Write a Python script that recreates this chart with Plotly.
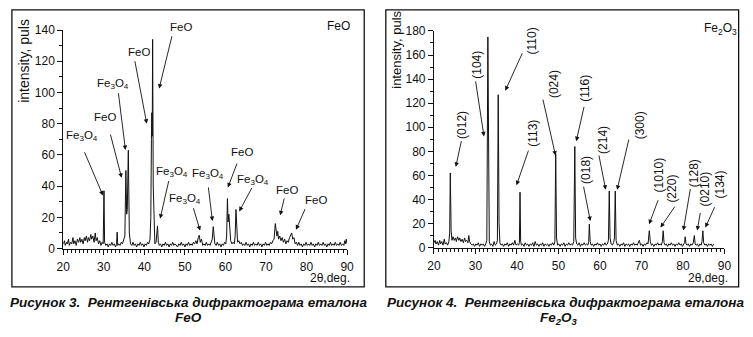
import plotly.graph_objects as go

# ---------------- data: FeO standard ----------------
feo_two_theta = [
    20.0, 20.3, 20.5, 20.8, 21.0, 21.3, 21.5, 21.8, 22.1, 22.4, 22.6, 22.9, 23.2, 23.5, 23.8,
    24.1, 24.3, 24.6, 24.9, 25.2, 25.4, 25.7, 26.0, 26.2, 26.5, 26.8, 27.0, 27.3, 27.6, 27.9,
    28.1, 28.4, 28.7, 29.0, 29.3, 29.6, 29.85, 30.05, 30.2, 30.5, 30.8, 31.1, 31.4, 31.7, 32.0,
    32.3, 32.6, 32.9, 33.15, 33.3, 33.45, 33.7, 34.0, 34.3, 34.6, 34.9, 35.2, 35.45, 35.65, 35.8,
    36.05, 36.3, 36.6, 36.9, 37.2, 37.5, 37.8, 38.1, 38.4, 38.7, 39.0, 39.3, 39.6, 39.9, 40.2,
    40.5, 40.8, 41.1, 41.4, 41.6, 41.75, 41.85, 41.95, 42.05, 42.2, 42.4, 42.6, 42.9, 43.1, 43.25,
    43.45, 43.7, 44.0, 44.3, 44.6, 44.9, 45.2, 45.5, 45.8, 46.1, 46.4, 46.7, 47.0, 47.3, 47.6,
    47.9, 48.2, 48.5, 48.8, 49.1, 49.4, 49.7, 50.0, 50.3, 50.6, 50.9, 51.2, 51.5, 51.8, 52.1,
    52.4, 52.7, 53.0, 53.3, 53.55, 53.8, 54.1, 54.4, 54.7, 55.0, 55.3, 55.6, 55.9, 56.2, 56.5,
    56.75, 57.0, 57.2, 57.4, 57.7, 58.0, 58.3, 58.6, 58.9, 59.2, 59.5, 59.8, 60.1, 60.3, 60.5,
    60.65, 60.85, 61.05, 61.3, 61.6, 61.9, 62.2, 62.4, 62.6, 62.8, 63.0, 63.3, 63.6, 63.9, 64.2,
    64.5, 64.8, 65.1, 65.4, 65.7, 66.0, 66.3, 66.6, 66.9, 67.2, 67.5, 67.8, 68.1, 68.4, 68.7,
    69.0, 69.3, 69.6, 69.9, 70.2, 70.5, 70.8, 71.1, 71.4, 71.7, 72.0, 72.3, 72.5, 72.7, 72.9,
    73.1, 73.4, 73.7, 74.0, 74.3, 74.6, 74.9, 75.2, 75.5, 75.8, 76.1, 76.35, 76.6, 76.9, 77.2,
    77.5, 77.8, 78.1, 78.4, 78.7, 79.0, 79.3, 79.6, 79.9, 80.2, 80.5, 80.8, 81.1, 81.4, 81.7,
    82.0, 82.3, 82.6, 82.9, 83.2, 83.5, 83.8, 84.1, 84.4, 84.7, 85.0, 85.3, 85.6, 85.9, 86.2,
    86.5, 86.8, 87.1, 87.4, 87.7, 88.0, 88.3, 88.6, 88.9, 89.2, 89.45, 89.6, 89.8, 90.0,
]
feo_counts = [
    3, 5, 2, 4, 3, 6, 2, 4, 3, 7, 3, 5, 2, 6, 4,
    7, 4, 6, 3, 7, 5, 8, 4, 7, 5, 9, 6, 8, 4, 10,
    5, 7, 3, 5, 2, 4, 3, 37, 4, 2, 3, 1, 3, 2, 4,
    2, 3, 1, 3, 10.5, 2, 3, 2, 4, 3, 5, 8, 50, 22, 25,
    63, 10, 3, 2, 4, 2, 3, 1, 3, 2, 4, 2, 3, 1, 3,
    2, 4, 3, 6, 20, 70, 87, 72, 134, 40, 8, 3, 4, 8, 14.5,
    4, 2, 3, 1, 3, 2, 4, 2, 3, 1, 3, 2, 4, 2, 3,
    2, 1, 3, 2, 4, 2, 3, 1, 3, 2, 4, 2, 3, 2, 4,
    3, 5, 3, 7, 8.5, 4, 6, 2, 3, 2, 4, 2, 3, 2, 4,
    6, 14, 7, 3, 2, 4, 2, 3, 1, 3, 2, 4, 3, 8, 32,
    17, 22, 12, 5, 3, 4, 3, 8, 25, 8, 4, 5, 3, 4, 2,
    3, 2, 4, 2, 3, 1, 3, 2, 4, 2, 3, 2, 4, 2, 3,
    1, 3, 2, 4, 2, 3, 2, 4, 3, 5, 6, 16, 10, 8, 11,
    6, 8, 5, 7, 4, 6, 3, 5, 4, 7, 9, 10, 6, 7, 3,
    4, 2, 4, 2, 3, 1, 3, 2, 4, 2, 3, 2, 4, 2, 3,
    1, 3, 2, 4, 2, 3, 2, 4, 2, 3, 1, 3, 2, 4, 2,
    3, 2, 4, 2, 3, 2, 4, 2, 3, 2, 5, 3, 6, 3,
]

# ---------------- data: Fe2O3 standard ----------------
fe2o3_two_theta = [
    20.0, 20.3, 20.5, 20.8, 21.1, 21.4, 21.6, 21.9, 22.2, 22.5, 22.7, 23.0, 23.3, 23.6, 23.8,
    23.95, 24.15, 24.35, 24.6, 24.9, 25.2, 25.4, 25.7, 26.0, 26.2, 26.5, 26.8, 27.1, 27.4, 27.6,
    27.9, 28.2, 28.4, 28.6, 28.9, 29.2, 29.5, 29.8, 30.1, 30.4, 30.7, 31.0, 31.3, 31.6, 31.9,
    32.2, 32.5, 32.75, 33.0, 33.15, 33.35, 33.6, 33.9, 34.2, 34.5, 34.8, 35.1, 35.3, 35.5, 35.7,
    35.9, 36.2, 36.5, 36.8, 37.1, 37.4, 37.7, 38.0, 38.3, 38.6, 38.9, 39.2, 39.5, 39.8, 40.1,
    40.4, 40.6, 40.75, 40.9, 41.1, 41.4, 41.7, 42.0, 42.3, 42.6, 42.9, 43.2, 43.5, 43.8, 44.1,
    44.4, 44.7, 45.0, 45.3, 45.6, 45.9, 46.2, 46.5, 46.8, 47.1, 47.4, 47.7, 48.0, 48.3, 48.6,
    48.9, 49.15, 49.35, 49.55, 49.8, 50.1, 50.4, 50.7, 51.0, 51.3, 51.6, 51.9, 52.2, 52.5, 52.8,
    53.1, 53.4, 53.7, 53.95, 54.15, 54.4, 54.7, 55.0, 55.3, 55.6, 55.9, 56.2, 56.5, 56.8, 57.1,
    57.3, 57.45, 57.65, 57.9, 58.2, 58.5, 58.8, 59.1, 59.4, 59.7, 60.0, 60.3, 60.6, 60.9, 61.2,
    61.5, 61.8, 62.05, 62.25, 62.45, 62.7, 63.0, 63.3, 63.5, 63.7, 63.9, 64.2, 64.5, 64.8, 65.1,
    65.4, 65.7, 66.0, 66.3, 66.6, 66.9, 67.2, 67.5, 67.8, 68.1, 68.4, 68.7, 69.0, 69.3, 69.5,
    69.8, 70.1, 70.4, 70.7, 71.0, 71.3, 71.6, 71.9, 72.15, 72.4, 72.7, 73.0, 73.3, 73.6, 73.9,
    74.2, 74.5, 74.8, 75.05, 75.25, 75.45, 75.7, 76.0, 76.3, 76.6, 76.9, 77.2, 77.5, 77.8, 78.1,
    78.4, 78.7, 79.0, 79.3, 79.6, 79.9, 80.2, 80.4, 80.55, 80.75, 81.0, 81.3, 81.6, 81.9, 82.2,
    82.5, 82.75, 82.95, 83.2, 83.5, 83.8, 84.1, 84.4, 84.6, 84.8, 85.0, 85.3, 85.6, 85.9, 86.2,
    86.5, 86.8, 87.1, 87.4,
]
fe2o3_counts = [
    4, 6, 3, 5, 2, 6, 3, 5, 2, 7, 3, 4, 2, 5, 12,
    62, 14, 6, 9, 6, 8, 5, 9, 6, 8, 5, 7, 4, 8, 5,
    6, 4, 10, 5, 3, 2, 3, 1, 3, 2, 4, 1, 3, 2, 3,
    1, 3, 6, 175, 40, 5, 2, 3, 1, 5, 2, 3, 6, 127, 20,
    4, 2, 3, 1, 3, 2, 4, 1, 3, 2, 4, 2, 6, 2, 3,
    2, 4, 46, 5, 2, 3, 1, 4, 2, 3, 1, 3, 2, 4, 1,
    5, 2, 3, 1, 3, 2, 4, 1, 3, 2, 3, 1, 3, 2, 4,
    2, 5, 78, 8, 2, 3, 1, 3, 2, 4, 1, 3, 2, 4, 2,
    3, 2, 5, 84, 8, 3, 2, 4, 1, 3, 2, 4, 2, 3, 2,
    5, 19.5, 5, 2, 3, 1, 3, 2, 4, 2, 3, 1, 3, 2, 4,
    2, 3, 6, 47, 8, 3, 2, 4, 8, 47, 6, 2, 3, 1, 3,
    2, 4, 1, 3, 2, 3, 1, 3, 2, 4, 2, 3, 2, 4, 6,
    2, 3, 1, 3, 2, 4, 3, 14, 5, 2, 3, 1, 3, 2, 4,
    2, 3, 2, 5, 14, 4, 2, 3, 1, 3, 2, 4, 2, 3, 1,
    3, 2, 4, 2, 3, 1, 3, 4, 9, 3, 2, 3, 1, 3, 2,
    4, 10, 3, 2, 3, 1, 3, 2, 5, 14, 4, 2, 3, 1, 3,
    2, 3, 1, 3,
]

# peak labels: (text, label x, label y, arrow head x, head y, tail x, tail y)
feo_labels = [
    ("FeO", 38.8, 125.9, 40.6, 80.0, 37.6, 121.0),
    ("Fe<sub>3</sub>O<sub>4</sub>", 32.3, 105.6, 35.35, 63.1, 33.56, 100.5),
    ("FeO", 30.2, 84.1, 34.4, 45.3, 31.55, 74.0),
    ("Fe<sub>3</sub>O<sub>4</sub>", 24.7, 71.8, 29.8, 34.0, 25.1, 62.6),
    ("Fe<sub>3</sub>O<sub>4</sub>", 46.9, 49.3, 43.9, 19.2, 46.1, 44.2),
    ("Fe<sub>3</sub>O<sub>4</sub>", 50.1, 31.9, 53.75, 11.5, 52.0, 26.8),
    ("Fe<sub>3</sub>O<sub>4</sub>", 55.8, 47.9, 56.8, 17.6, 55.76, 40.1),
    ("FeO", 64.1, 61.6, 60.6, 39.1, 63.0, 55.4),
    ("Fe<sub>3</sub>O<sub>4</sub>", 66.8, 44.2, 63.4, 23.8, 66.7, 39.7),
    ("FeO", 75.1, 37.6, 73.5, 21.3, 74.6, 33.0),
    ("FeO", 82.4, 31.3, 77.4, 12.1, 79.8, 26.2),
]
# strongest FeO reflection: label sits above the plot area
feo_top_label = ("FeO", 43.65, 102.5, 46.9, 137.0)

fe2o3_labels = [
    ("(012)", 26.7, 101.7, 25.27, 67.1, 26.7, 89.8),
    ("(104)", 30.2, 152.1, 32.06, 92.4, 30.0, 139.4),
    ("(110)", 43.6, 172.0, 37.2, 130.4, 41.45, 162.7),
    ("(113)", 44.0, 95.0, 39.9, 51.8, 42.9, 81.8),
    ("(024)", 48.8, 136.2, 49.3, 76.5, 46.2, 124.2),
    ("(116)", 56.5, 132.2, 54.3, 88.4, 56.25, 118.1),
    ("(018)", 56.65, 64.5, 57.7, 22.1, 56.0, 51.8),
    ("(214)", 60.6, 89.8, 61.4, 48.0, 59.7, 77.8),
    ("(300)", 69.7, 101.7, 64.15, 48.0, 67.05, 91.0),
    ("(1010)", 74.15, 60.5, 71.85, 19.4, 74.15, 40.6),
    ("(220)", 77.5, 48.6, 74.6, 16.7, 78.3, 35.3),
    ("(128)", 82.7, 61.9, 80.1, 14.1, 81.85, 49.9),
    ("(0210)", 85.4, 48.6, 83.45, 14.1, 84.25, 30.0),
    ("(134)", 89.0, 52.6, 85.4, 16.7, 87.8, 34.8),
]

x_ticks = [20, 30, 40, 50, 60, 70, 80, 90]
feo_y_ticks = [0, 20, 40, 60, 80, 100, 120, 140]
fe2o3_y_ticks = [0, 20, 40, 60, 80, 100, 120, 140, 160, 180]

FONT = "Liberation Sans, Arial, sans-serif"
INK = "#111111"
W, H = 753, 337

fig = go.Figure()
fig.add_trace(go.Scatter(x=feo_two_theta, y=feo_counts, mode="lines",
                         line=dict(color=INK, width=1), xaxis="x", yaxis="y",
                         showlegend=False, hoverinfo="skip"))
fig.add_trace(go.Scatter(x=fe2o3_two_theta, y=fe2o3_counts, mode="lines",
                         line=dict(color=INK, width=1), xaxis="x2", yaxis="y2",
                         showlegend=False, hoverinfo="skip"))


def xax(domain, anchor):
    return dict(domain=domain, anchor=anchor, range=[20, 90], tickvals=x_ticks,
                ticks="outside", ticklen=5, tickwidth=1, tickcolor=INK, ticklabelstandoff=2,
                minor=dict(dtick=1, ticklen=3, ticks="outside", tickcolor=INK, tickwidth=1),
                showline=True, linecolor=INK, linewidth=1, showgrid=False, zeroline=False,
                tickfont=dict(family=FONT, size=12, color=INK), fixedrange=True)


def yax(domain, anchor, top, vals):
    return dict(domain=domain, anchor=anchor, range=[0, top], tickvals=vals,
                ticks="outside", ticklen=5, tickwidth=1, tickcolor=INK,
                minor=dict(dtick=10, ticklen=3, ticks="outside", tickcolor=INK, tickwidth=1),
                showline=True, linecolor=INK, linewidth=1, showgrid=False, zeroline=False,
                tickfont=dict(family=FONT, size=12, color=INK), fixedrange=True)


def arrow(hx, hy, tx, ty, xr, yr):
    return dict(x=hx, y=hy, ax=tx, ay=ty, xref=xr, yref=yr, axref=xr, ayref=yr,
                text="", showarrow=True, arrowhead=2, arrowsize=1, arrowwidth=0.9,
                arrowcolor=INK, standoff=0)


annotations = []
for txt, lx, ly, hx, hy, tx, ty in feo_labels:
    annotations.append(arrow(hx, hy, tx, ty, "x", "y"))
    annotations.append(dict(x=lx, y=ly, xref="x", yref="y", text=txt, showarrow=False,
                            xanchor="center", yanchor="middle",
                            font=dict(family=FONT, size=11.5, color=INK)))
annotations.append(arrow(*feo_top_label[1:], "x", "y"))
for txt, lx, ly, hx, hy, tx, ty in fe2o3_labels:
    annotations.append(arrow(hx, hy, tx, ty, "x2", "y2"))
    annotations.append(dict(x=lx, y=ly, xref="x2", yref="y2", text=txt, showarrow=False,
                            xanchor="center", yanchor="middle",
                            textangle=-90, font=dict(family=FONT, size=12, color=INK)))


def paper_text(px, py, txt, size=12, angle=0, xanchor="center", font=FONT, **kw):
    f = dict(family=font, size=size, color=INK)
    f.update(kw)
    return dict(x=px / W, y=1 - py / H, xref="paper", yref="paper", text=txt,
                showarrow=False, textangle=angle, xanchor=xanchor, yanchor="middle", font=f)


annotations += [
    paper_text(177, 21, feo_top_label[0], size=11.5),
    paper_text(338, 20, "FeO"),
    paper_text(727, 23, "Fe<sub>2</sub>O<sub>3</sub>"),
    paper_text(16.5, 56, "intensity, puls", size=14, angle=-90),
    paper_text(397, 45, "intensity, puls", size=13, angle=-90),
    paper_text(352, 283, "2θ,deg.", xanchor="right"),
    paper_text(737, 283, "2θ,deg.", xanchor="right"),
]

CAP = "Liberation Sans Narrow, Arial Narrow, Liberation Sans, sans-serif"
CAP_SIZE = 13.5
annotations += [
    paper_text(185, 308, "Рисунок 3.  Рентгенівська дифрактограма еталона", size=CAP_SIZE,
               font=CAP, weight="bold", style="italic"),
    paper_text(185, 324, "FeO", size=CAP_SIZE, font=CAP, weight="bold", style="italic"),
    paper_text(569, 308, "Рисунок 4.  Рентгенівська дифрактограма еталона", size=CAP_SIZE,
               font=CAP, weight="bold", style="italic"),
    paper_text(562, 325, "Fe<sub>2</sub>O<sub>3</sub>", size=CAP_SIZE, font=CAP,
               weight="bold", style="italic"),
]

shapes = [
    dict(type="rect", xref="paper", yref="paper", x0=5 / W, x1=364 / W, y0=1 - 292 / H, y1=1 - 3 / H,
         line=dict(color=INK, width=1.3)),
    dict(type="rect", xref="paper", yref="paper", x0=386 / W, x1=745.5 / W, y0=1 - 292 / H, y1=1 - 3 / H,
         line=dict(color=INK, width=1.3)),
]

fig.update_layout(
    width=W, height=H, margin=dict(l=0, r=0, t=0, b=0),
    paper_bgcolor="white", plot_bgcolor="white", showlegend=False,
    xaxis=xax([57.3 / W, 346.5 / W], "y"),
    yaxis=yax([(H - 252) / H, (H - 24) / H], "x", 140, feo_y_ticks),
    xaxis2=xax([435 / W, 731 / W], "y2"),
    yaxis2=yax([(H - 251) / H, (H - 25) / H], "x2", 180, fe2o3_y_ticks),
    annotations=annotations, shapes=shapes,
)

fig.write_html("out.html", config={"displayModeBar": False})
